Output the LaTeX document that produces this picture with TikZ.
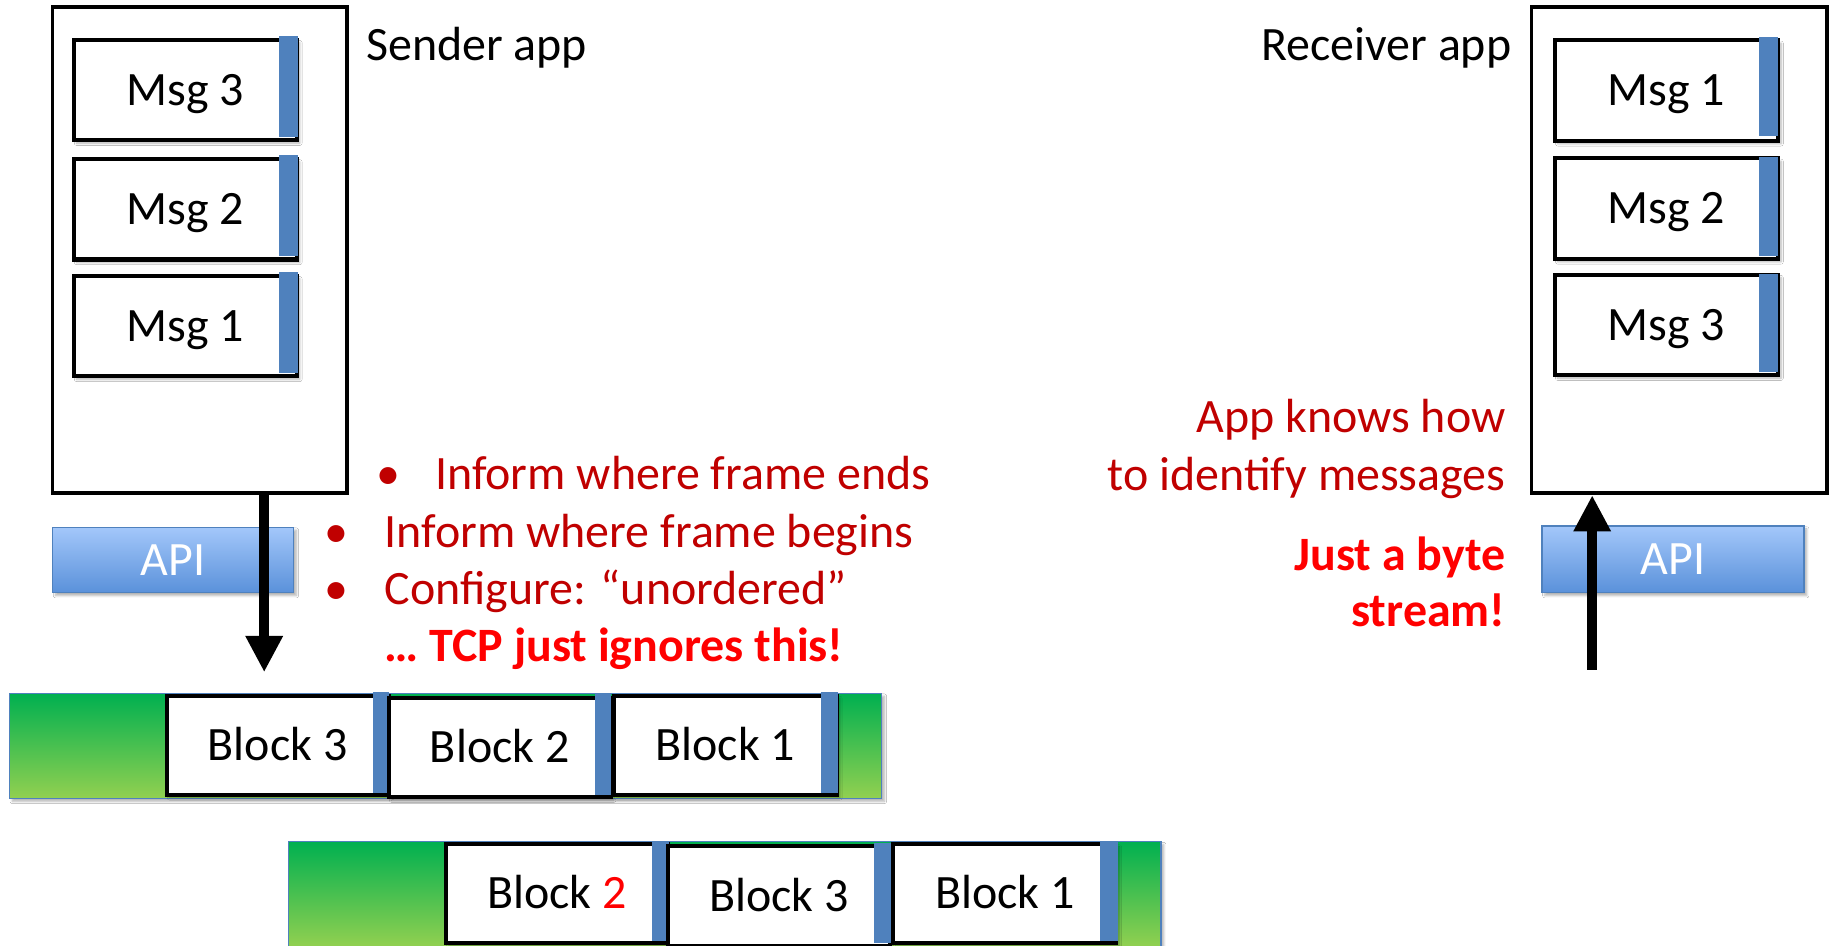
\documentclass[tikz,border=0pt]{standalone}
\usepackage{fontspec}
\setmainfont{Carlito}
\usetikzlibrary{arrows.meta,shadows.blur}
\definecolor{dred}{HTML}{C00000}
\definecolor{bred}{HTML}{FF0000}
\definecolor{barblue}{HTML}{4F81BD}
\definecolor{apitop}{HTML}{A3C7FA}
\definecolor{apibot}{HTML}{5A91DA}
\definecolor{gtop}{HTML}{00B050}
\definecolor{gbot}{HTML}{92D050}
\begin{document}
\begin{tikzpicture}[x=1pt,y=-1pt,
  font=\fontsize{41pt}{49pt}\selectfont,
  appbox/.style={draw, line width=3.2pt, minimum width=252pt, minimum height=416pt, inner sep=0pt},
  shad/.style={blur shadow={shadow xshift=2.5pt, shadow yshift=-2.5pt, shadow blur steps=6, shadow opacity=30}},
  msgbox/.style={draw, fill=white, line width=3.5pt, minimum width=191pt, minimum height=86pt, inner sep=0pt, text height=26pt, text depth=0pt, shad},
  blkbox/.style={draw, fill=white, line width=3.5pt, minimum width=190pt, minimum height=85pt, inner sep=0pt, text height=26pt, text depth=0pt, shad},
  bar/.style={fill=barblue},
  apibox/.style={draw=barblue, line width=1.2pt, top color=apitop, bottom color=apibot, inner sep=0pt, text=white, text height=26pt, text depth=0pt, shad},
  stream/.style={draw=barblue, line width=1.2pt, top color=gtop, bottom color=gbot, minimum width=746pt, minimum height=90pt, inner sep=0pt, shad},
  bigarrow/.style={line width=9pt, -{Triangle[width=30pt,length=31pt]}},
  lbl/.style={inner sep=0pt},
  note/.style={inner sep=0pt, text=dred},
  loud/.style={inner sep=0pt, text=bred, font=\fontsize{41pt}{49pt}\selectfont\bfseries}
]
\fill[white] (0,0) rectangle (1568,809);
\useasboundingbox (0,0) rectangle (1568,809);
\clip (0,0) rectangle (1568,809);

% ---------- Sender ----------
\node[appbox] (sender) at (171,214) {};
\node[msgbox] (s3) at (158.5,77) {Msg 3};
\fill[bar] (239,31) rectangle (255,117);
\node[msgbox] (s2) at (158.5,179) {Msg 2};
\fill[bar] (239,133) rectangle (255,219);
\node[msgbox] (s1) at (158.5,279) {Msg 1};
\fill[bar] (239,233) rectangle (255,319);
\node[lbl, anchor=base west] (sendlbl) at (313,52) {Sender app};

\node[apibox, minimum width=206pt, minimum height=56pt] (apil) at (148,479) {API};

% ---------- Receiver ----------
\node[appbox, minimum width=253pt] (receiver) at (1436.5,214) {};
\node[msgbox] (r1) at (1425.5,77.5) {Msg 1};
\fill[bar] (1505,32) rectangle (1521,116);
\node[msgbox] (r2) at (1425.5,178.5) {Msg 2};
\fill[bar] (1505,134) rectangle (1521,219);
\node[msgbox] (r3) at (1425.5,278) {Msg 3};
\fill[bar] (1505,234) rectangle (1521,318);
\node[lbl, anchor=base east] (recvlbl) at (1293,51.5) {Receiver app};

\node[apibox, minimum width=224pt, minimum height=57pt] (apir) at (1431,478.5) {API};

% ---------- Stream row 1 ----------
\node[stream] (row1) at (381,638) {};
\node[blkbox] (a3) at (237.5,637.5) {Block 3};
\fill[bar] (319,592) rectangle (333,678);
\node[blkbox] (a2) at (427.5,639.5) {Block 2};
\fill[bar] (509,594) rectangle (523,680);
\node[blkbox, minimum width=191pt] (a1) at (620.5,637.5) {Block 1};
\fill[bar] (702,592) rectangle (717,678);

% ---------- Stream row 2 ----------
\node[stream] (row2) at (620,765) {};
\node[blkbox] (b2) at (476.5,764.5) {Block \textcolor{bred}{2}};
\fill[bar] (558,719) rectangle (572,805);
\node[blkbox] (b3) at (666.5,766.5) {Block 3};
\fill[bar] (748,721) rectangle (762,807);
\node[blkbox, minimum width=191pt] (b1) at (859.5,764.5) {Block 1};
\fill[bar] (941,719) rectangle (956,805);

% ---------- Arrows ----------
\coordinate (dtip) at (226,575);
\draw[bigarrow] (sender.south -| dtip) -- (dtip);
\coordinate (ubase) at (1362,573);
\draw[bigarrow] (ubase) -- (receiver.south -| ubase);

% ---------- Notes ----------
\node[note, anchor=base west] (b1dot) at (322,419) {•};
\node[note, anchor=base west] (n1) at (372,419) {Inform where frame ends};
\node[note, anchor=base west] (b2dot) at (277,468) {•};
\node[note, anchor=base west] (n2) at (329,468) {Inform where frame begins};
\node[note, anchor=base west] (b3dot) at (277,517) {•};
\node[note, anchor=base west] (n3) at (329,517) {Configure: “unordered”};
\node[loud, anchor=base west] (n4) at (329,566) {… TCP just ignores this!};

\node[note, anchor=base east] (k1) at (1288,370) {App knows how};
\node[note, anchor=base east] (k2) at (1288,420) {to identify messages};
\node[loud, anchor=base east] (j1) at (1288,488) {Just a byte};
\node[loud, anchor=base east] (j2) at (1288,536) {stream!};
\end{tikzpicture}
\end{document}
